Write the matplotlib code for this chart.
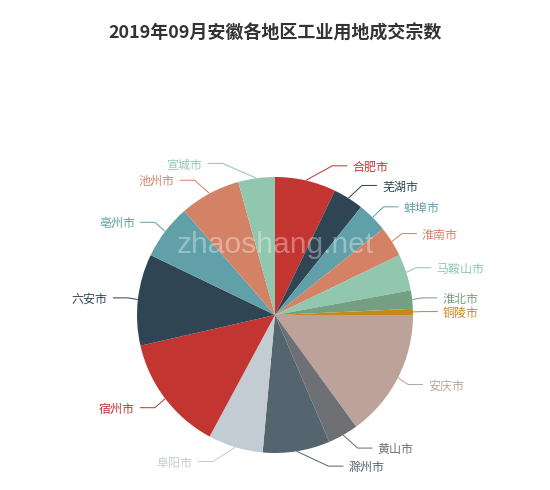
import math

import matplotlib
matplotlib.use('Agg')
import matplotlib.pyplot as plt

plt.rcParams['font.family'] = ['Noto Sans CJK SC', 'DejaVu Sans']

title = '2019年09月安徽各地区工业用地成交宗数'
cities = ['合肥市', '芜湖市', '蚌埠市', '淮南市', '马鞍山市', '淮北市', '铜陵市', '安庆市',
          '黄山市', '滁州市', '阜阳市', '宿州市', '六安市', '亳州市', '池州市', '宣城市']
counts = [10, 5, 5, 5, 6, 3, 1, 21, 5, 11, 9, 19, 15, 9, 10, 6]

palette = ['#c23531', '#2f4554', '#61a0a8', '#d48265', '#91c7ae', '#749f83',
           '#ca8622', '#bda29a', '#6e7074', '#546570', '#c4ccd3']
colors = [palette[i % len(palette)] for i in range(len(cities))]

# canvas in pixels (y measured downwards for the label layout)
W, H = 550, 490
CX, CY, R = 275, 315, 138
LEN1, LEN2, LABEL_GAP = 15, 15, 5
LABEL_H = 12
PX = 72 / 100  # px -> pt at dpi 100


def label_layout(values):
    """ECharts-like outside label placement."""
    total = sum(values)
    items = []
    acc = 0.0
    for i, v in enumerate(values):
        mid = (acc + v / 2) / total * 2 * math.pi  # clockwise from top
        acc += v
        dx, dy = math.sin(mid), -math.cos(mid)
        side = 1 if dx >= 0 else -1
        items.append({
            'idx': i, 'dir': side,
            'edge': (CX + R * dx, CY + R * dy),
            'y': CY + (R + LEN1) * dy,
        })
    for side in (1, -1):
        group = sorted([d for d in items if d['dir'] == side], key=lambda d: d['y'])
        last_y = 0
        for i, d in enumerate(group):
            if d['y'] < last_y:
                shift = last_y - d['y']
                for d2 in group[i:]:
                    d2['y'] += shift
            last_y = d['y'] + LABEL_H
        reach = R + LEN1 + LEN2
        up = [d for d in group if d['y'] < CY]
        down = [d for d in group if d['y'] >= CY]
        last = 0
        for d in up:
            dxl = math.sqrt(max(reach ** 2 - (d['y'] - CY) ** 2, 0))
            if dxl <= last:
                dxl = last + 10
            d['x'] = CX + side * dxl
            last = dxl
        last = float('inf')
        for d in down:
            dxl = math.sqrt(max(reach ** 2 - (d['y'] - CY) ** 2, 0))
            if dxl >= last:
                dxl = last - 10
            d['x'] = CX + side * dxl
            last = dxl
    return sorted(items, key=lambda d: d['idx'])


fig = plt.figure(figsize=(W / 100, H / 100), dpi=100)
ax = fig.add_axes([0, 0, 1, 1])

ax.pie(counts, colors=colors, center=(CX, H - CY), radius=R, startangle=90,
       counterclock=False, frame=True, wedgeprops={'linewidth': 0})
ax.set_xlim(0, W)
ax.set_ylim(0, H)
ax.set_aspect('equal')
ax.axis('off')

for d in label_layout(counts):
    col = colors[d['idx']]
    side = d['dir']
    x3 = d['x'] - side * LABEL_GAP
    x2 = x3 - side * LEN2
    ex, ey = d['edge']
    ax.plot([ex, x2, x3], [H - ey, H - d['y'], H - d['y']], color=col, lw=1 * PX,
            solid_capstyle='butt')
    ax.text(d['x'], H - d['y'], cities[d['idx']], color=col, fontsize=12 * PX,
            ha='left' if side > 0 else 'right', va='center_baseline')

# watermark
ax.text(275, H - 253, 'zhaoshang.net', color='white', alpha=0.35,
        fontsize=30 * PX, family='Liberation Sans', ha='center', va='baseline')

ax.text(275, H - 31, title, color='#333333', fontsize=18 * PX, fontweight='bold',
        ha='center', va='center_baseline')

fig.savefig('out.png', dpi=100)
